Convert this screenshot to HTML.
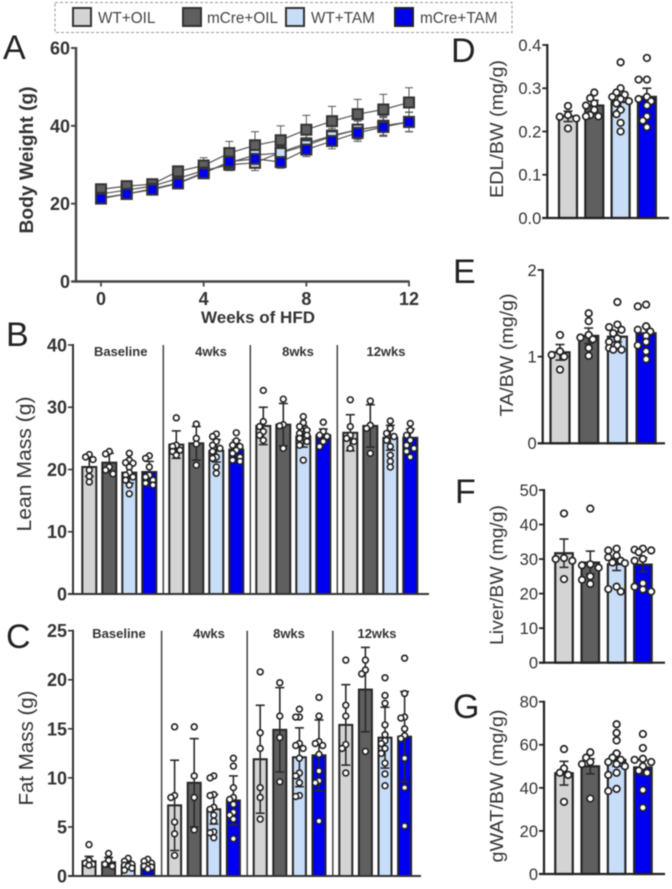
<!DOCTYPE html>
<html lang="en">
<head>
<meta charset="utf-8">
<title>Body composition panels</title>
<style>
html,body{margin:0;padding:0;background:#fff;}
body{width:672px;height:889px;overflow:hidden;}
svg{display:block;filter:blur(0.45px);}
text{font-family:"Liberation Sans",Arial,sans-serif;}
</style>
</head>
<body>
<svg id="figure" xmlns="http://www.w3.org/2000/svg" width="672" height="889" viewBox="0 0 672 889">
  <g>
    <rect x="55" y="2.5" width="457" height="30" fill="none" stroke="#999" stroke-width="1" stroke-dasharray="3 2"/>
    <rect x="73" y="8" width="18" height="18" fill="#d4d4d4" stroke="#333" stroke-width="2"/>
    <text x="98" y="23" font-size="15.3" fill="#444">WT+OIL</text>
    <rect x="183" y="8" width="18" height="18" fill="#5f5f5f" stroke="#333" stroke-width="2"/>
    <text x="207" y="23" font-size="15.3" fill="#444">mCre+OIL</text>
    <rect x="286" y="8" width="18" height="18" fill="#c8def8" stroke="#333" stroke-width="2"/>
    <text x="311" y="23" font-size="15.3" fill="#444">WT+TAM</text>
    <rect x="395" y="8" width="18" height="18" fill="#0000f0" stroke="#222" stroke-width="2"/>
    <text x="420" y="23" font-size="15.3" fill="#444">mCre+TAM</text>
  </g>
  <g font-size="34" fill="#222">
    <text x="3" y="59">A</text>
    <text x="6" y="346">B</text>
    <text x="6" y="648">C</text>
    <text x="451" y="62">D</text>
    <text x="453" y="283">E</text>
    <text x="455" y="503">F</text>
    <text x="453" y="718">G</text>
  </g>
</svg>
<script>
// ---------- shared ----------
const groupColors = ['#d4d4d4', '#5f5f5f', '#c8def8', '#0000f0'];

// ---------- panel A: body weight ----------
const weeks = [0, 1, 2, 3, 4, 5, 6, 7, 8, 9, 10, 11, 12];
const weightTicksY = [0, 20, 40, 60];
const weightTicksX = [0, 4, 8, 12];
const weightWtOil = [22.5, 23.5, 24.5, 26.5, 28.5, 30, 30.5, 33.2, 35.5, 37.5, 39, 40, 41];
const weightMcreOil = [23.7, 24.5, 25, 28.3, 29.8, 33, 35, 36.3, 39, 41.2, 43, 44.2, 46];
const weightWtTam = [21.5, 22.5, 23.8, 25.3, 28, 30.5, 32.5, 33, 35, 37.3, 39, 40, 41];
const weightMcreTam = [21.3, 22.5, 23.6, 25.2, 27.8, 30.8, 31.5, 30.7, 33.9, 36.1, 38.2, 39.7, 41];
const weightErrWtOil = [0.8, 0.8, 0.8, 1, 1.5, 1.5, 2, 2.2, 2.2, 2.3, 2.5, 2.5, 2.5];
const weightErrMcreOil = [1, 1, 1, 1.2, 2, 3, 3.5, 3.7, 3.7, 3.8, 3.8, 3.9, 3.8];
const weightErrWtTam = [0.8, 0.8, 0.8, 1, 1.2, 1.4, 1.7, 1.8, 1.9, 2, 2.2, 2.4, 2.5];
const weightErrMcreTam = [0.8, 0.8, 0.8, 1, 1.2, 1.4, 1.6, 1.6, 1.8, 2, 2.2, 2.4, 2.5];

// ---------- panel B: lean mass (time point x group) ----------
const timeLabels = ['Baseline', '4wks', '8wks', '12wks'];
const leanTicks = [0, 10, 20, 30, 40];
const leanMeans = [[20.4, 21.1, 19.5, 19.6], [24, 24.2, 23, 23.2], [27, 27.2, 25.3, 25.5], [25.9, 27, 25.1, 25.1]];
const leanErrs = [[1.5, 1.5, 1.7, 1.7], [2.2, 2.7, 1.8, 1.5], [3, 3.4, 1.7, 1], [2.9, 3.4, 2, 1.4]];
const leanPoints = [
  [[22.4, 22, 21.6, 19.9, 18.9, 18], [22.9, 22.5, 20.4, 19.9, 19.3], [22.6, 21.5, 21, 21.1, 20.4, 19.5, 19.1, 18.8, 18.3, 17.5, 16.1], [22.2, 21.8, 20.4, 19.1, 18.8, 18.3, 17.8, 17.5]],
  [[28.3, 23.9, 23.7, 23.1, 22.9, 22.3], [27.3, 25, 24.1, 20.7], [25.7, 25.3, 24.5, 23.9, 23.4, 22.9, 22, 21.8, 20.4, 19.4], [25.9, 24.6, 23.9, 23.7, 23.1, 22.6, 22, 21.5, 21.3]],
  [[32.7, 27.7, 26.9, 26.1, 25.5, 24.7], [31.3, 27.2, 27, 23.4], [28.5, 27.5, 26.9, 26.3, 25.8, 25.5, 25, 24.5, 23.9, 21.5], [27.6, 26.1, 25.5, 25.3, 24.5, 23.7]],
  [[31.2, 26.9, 25.5, 25, 24.5, 23.4], [31, 27.1, 26.6, 22.6], [27.8, 26.6, 25.8, 25.3, 24.7, 23.7, 22.3, 21.3, 20.4], [27.4, 26.3, 25.5, 24.7, 23.9, 23.4, 22.9, 22]]
];

// ---------- panel C: fat mass (time point x group) ----------
const fatTicks = [0, 5, 10, 15, 20, 25];
const fatMeans = [[1.5, 1.4, 1.1, 1.1], [7.2, 9.5, 6.8, 7.7], [11.9, 14.9, 12.1, 12.3], [15.4, 19, 14.1, 14.2]];
const fatErrs = [[0.5, 0.5, 0.4, 0.4], [4.6, 4.5, 1.5, 2.5], [5.5, 4.3, 3, 3.6], [4.1, 4.3, 3.1, 4.6]];
const fatPoints = [
  [[3.2, 1.6, 1.3, 1.2, 1.1], [2.3, 1.6, 1.2, 1], [1.8, 1.5, 1.2, 1.1, 1, 0.8, 0.6], [1.7, 1.5, 1.3, 1.1, 1, 0.9, 0.7]],
  [[15.2, 8.2, 8, 5.5, 4.3, 2.1], [15.2, 10.2, 8, 4.7], [10.2, 10, 8.3, 8.2, 7, 6.8, 6.2, 5.6, 4.5, 4.4, 3.9], [12, 11.2, 9, 8, 7.8, 7.3, 6.5, 6.2, 5.8, 3.8]],
  [[20.8, 14.6, 13, 9, 8, 5.8], [19.7, 16.3, 14.1, 9.6], [17, 16.2, 16.2, 13.5, 13.3, 13, 12, 10.5, 10.2, 9.5, 8.2, 8.1], [18.2, 16.3, 13.7, 13.5, 13.3, 12.4, 10.7, 9.7, 9.5, 5.6]],
  [[22, 17.4, 16.3, 13.4, 13, 10.5], [22, 21, 20.6, 12.7], [20.2, 18.4, 17.6, 15.4, 14.4, 13.8, 13.5, 13, 12.5, 11.5, 10.4, 9.2], [22.2, 18.6, 16.2, 16.1, 15, 14.3, 14, 12, 9, 5.1]]
];

// ---------- panel D: EDL/BW ----------
const edlTicks = ['0.0', '0.1', '0.2', '0.3', '0.4'];
const edlMeans = [0.235, 0.26, 0.268, 0.28];
const edlErrs = [0.012, 0.012, 0.017, 0.02];
const edlPoints = [[0.259, 0.238, 0.234, 0.23, 0.207], [0.29, 0.277, 0.265, 0.26, 0.25, 0.238, 0.235, 0.235], [0.36, 0.3, 0.29, 0.285, 0.28, 0.275, 0.27, 0.265, 0.25, 0.24, 0.22, 0.2], [0.37, 0.32, 0.32, 0.28, 0.275, 0.27, 0.26, 0.235, 0.225, 0.21]];

// ---------- panel E: TA/BW ----------
const taTicks = ['0', '1', '2'];
const taMeans = [1.05, 1.24, 1.23, 1.27];
const taErrs = [0.09, 0.09, 0.06, 0.08];
const taPoints = [[1.25, 1.06, 1.02, 1, 0.85], [1.5, 1.41, 1.25, 1.22, 1.2, 1.1, 1.01], [1.63, 1.37, 1.34, 1.31, 1.27, 1.21, 1.17, 1.13, 1.1, 1.08, 1.08], [1.6, 1.58, 1.35, 1.31, 1.29, 1.24, 1.17, 1.13, 1.06, 0.97]];

// ---------- panel F: Liver/BW ----------
const liverTicks = ['0', '10', '20', '30', '40', '50'];
const liverMeans = [31.7, 29, 28.5, 28.4];
const liverErrs = [4.1, 3.3, 1.8, 2];
const liverPoints = [[43.2, 30.3, 30, 29.5, 24.2], [44.6, 28.5, 28.2, 27.5, 25, 24, 22.8], [33, 32.5, 31, 30.5, 29.5, 29, 28.8, 22, 21.3, 20.6], [33, 32.7, 32.5, 32, 30, 29.5, 23, 22, 21.2, 20.6]];

// ---------- panel G: gWAT/BW ----------
const gwatTicks = ['0', '20', '40', '60', '80'];
const gwatMeans = [46.8, 50, 53, 49.5];
const gwatErrs = [5.5, 3.5, 3, 3.5];
const gwatPoints = [[58, 49, 47, 46, 33.5], [56.5, 54, 52, 51, 35], [69.5, 65.5, 62, 56, 54, 53, 52, 51, 50, 47, 46, 39.5, 38.5], [65, 58.5, 53.5, 53, 52, 50, 48, 47, 39, 30.8]];

// ---------- drawing helpers ----------
const svg = document.getElementById('figure');
const NS = 'http://www.w3.org/2000/svg';

function shape(parent, tag, attrs) {
  const el = document.createElementNS(NS, tag);
  for (const k in attrs) el.setAttribute(k, attrs[k]);
  parent.appendChild(el);
  return el;
}
function linear(d0, d1, r0, r1) {
  return function (v) { return r0 + (v - d0) * (r1 - r0) / (d1 - d0); };
}
function line(parent, x1, y1, x2, y2, color, width) {
  return shape(parent, 'line', { x1: x1, y1: y1, x2: x2, y2: y2, stroke: color, 'stroke-width': width });
}
function label(parent, x, y, content, size, weight, anchor, color) {
  const t = shape(parent, 'text', { x: x, y: y, 'font-size': size, 'font-weight': weight, 'text-anchor': anchor, fill: color });
  t.textContent = content;
  return t;
}
function yTitle(parent, baselineX, cy, content, size, weight, length) {
  const t = shape(parent, 'text', {
    transform: 'translate(' + baselineX + ',' + cy + ') rotate(-90)',
    'font-size': size, 'font-weight': weight, 'text-anchor': 'middle', fill: '#333',
    textLength: length, lengthAdjust: 'spacingAndGlyphs'
  });
  t.textContent = content;
  
  
  return t;
}
// Deterministic bee-swarm: each dot takes the freest slot beside the centre line, never wider than maxOffset.
function swarm(values, y, dotSize, maxOffset) {
  const placed = [];
  const sorted = values.slice().sort(function (a, b) { return b - a; });
  sorted.forEach(function (v) {
    const py = y(v);
    let bestX = 0;
    let bestGap = -1;
    for (let step = 0; step < 12; step++) {
      const px = (step % 2 === 0 ? 1 : -1) * Math.ceil(step / 2) * dotSize * 0.5;
      if (Math.abs(px) > maxOffset) break;
      let gap = Infinity;
      placed.forEach(function (p) { gap = Math.min(gap, Math.hypot(p.x - px, p.y - py)); });
      if (gap >= dotSize * 0.72) { bestX = px; bestGap = gap; break; }
      if (gap > bestGap) { bestX = px; bestGap = gap; }
    }
    placed.push({ x: bestX, y: py });
  });
  return placed;
}
function drawYAxis(parent, axisX, y, tickValues, tickText, size, weight, color, axisWidth) {
  const top = Math.min.apply(null, tickValues.map(y));
  const bottom = Math.max.apply(null, tickValues.map(y));
  const axis = line(parent, axisX, top - 1, axisX, bottom + 1, color, axisWidth);
  
  
  tickValues.forEach(function (v, i) {
    const tick = line(parent, axisX - 5, y(v), axisX, y(v), color, axisWidth * 0.8);
    
    
    const t = label(parent, axisX - 6, y(v) + size * 0.36, tickText[i], size, weight, 'end', '#333');
    
    
  });
}
function drawBar(parent, cx, width, y, baseY, mean, err, points, color, dotRadius, dotStroke, barStroke) {
  const bar = shape(parent, 'rect', { x: cx - width / 2, y: y(mean), width: width, height: baseY - y(mean), fill: color, stroke: '#262626', 'stroke-width': barStroke });
  
  
  const errLine = line(parent, cx, y(mean + err), cx, y(mean - err), '#2a2a2a', 1.6);
  
  
  const capTop = line(parent, cx - 4.5, y(mean + err), cx + 4.5, y(mean + err), '#2a2a2a', 1.6);
  
  
  const capBottom = line(parent, cx - 4.5, y(mean - err), cx + 4.5, y(mean - err), '#2a2a2a', 1.6);
  
  
  swarm(points, y, dotRadius * 2 + dotStroke, width * 0.5).forEach(function (p) {
    const dot = shape(parent, 'circle', { cx: cx + p.x, cy: p.y, r: dotRadius, fill: '#fff', stroke: '#222', 'stroke-width': dotStroke });
    
    
  });
}

// ---------- panel A ----------
(function () {
  const g = shape(svg, 'g', {});
  
  
  const x = linear(0, 12, 101, 409);
  const y = linear(0, 60, 281.5, 48);
  drawYAxis(g, 76, y, weightTicksY, weightTicksY.map(String), 18, 'bold', '#444', 2.4);
  const xAxis = line(g, 72, y(0), 409.6, y(0), '#444', 2.4);
  
  
  weightTicksX.forEach(function (w) {
    const tick = line(g, x(w), y(0), x(w), y(0) + 5, '#444', 1.8);
    
    
    const t = label(g, x(w), 305, String(w), 18, 'bold', 'middle', '#333');
    
    
  });
  const xt = label(g, 258, 323, 'Weeks of HFD', 17, 'bold', 'middle', '#333');
  
  
  yTitle(g, 33, 160, 'Body Weight (g)', 19, 'bold', 147);

  const series = [weightWtOil, weightMcreOil, weightWtTam, weightMcreTam];
  const errors = [weightErrWtOil, weightErrMcreOil, weightErrWtTam, weightErrMcreTam];
  series.forEach(function (values, s) {
    values.forEach(function (v, i) {
      const e = errors[s][i];
      const stem = line(g, x(weeks[i]), y(v + e), x(weeks[i]), y(v - e), '#555', 1);
      
      
      const capHi = line(g, x(weeks[i]) - 4, y(v + e), x(weeks[i]) + 4, y(v + e), '#555', 1);
      
      
      const capLo = line(g, x(weeks[i]) - 4, y(v - e), x(weeks[i]) + 4, y(v - e), '#555', 1);
      
      
    });
  });
  series.forEach(function (values, s) {
    const path = shape(g, 'polyline', {
      points: values.map(function (v, i) { return x(weeks[i]) + ',' + y(v); }).join(' '),
      fill: 'none', stroke: '#555', 'stroke-width': 1.2
    });
    
    
    values.forEach(function (v, i) {
      const m = shape(g, 'rect', { x: x(weeks[i]) - 5, y: y(v) - 5, width: 10, height: 10, fill: groupColors[s], stroke: '#333', 'stroke-width': 2 });
      
      
    });
  });
})();

// ---------- panels B and C ----------
function drawGrouped(name, y, ticks, means, errs, points, firstCenter, barStep, groupStep, barWidth, xEnd, labelCenters, labelY) {
  const g = shape(svg, 'g', {});
  
  
  const baseY = y(0);
  const topY = y(ticks[ticks.length - 1]);
  means.forEach(function (row, t) {
    row.forEach(function (mean, i) {
      const cx = firstCenter + t * groupStep + i * barStep;
      drawBar(g, cx, barWidth, y, baseY, mean, errs[t][i], points[t][i], groupColors[i], 2.9, 1.6, 2);
    });
    const lab = label(g, labelCenters[t], labelY, timeLabels[t], 13, 'bold', 'middle', '#333');
    
    
    if (t > 0) {
      const dx = firstCenter + t * groupStep - 13;
      const div = line(g, dx, topY, dx, baseY, '#444', 1.5);
      
      
    }
  });
  drawYAxis(g, 73, y, ticks, ticks.map(String), 18, 'bold', '#333', 2);
  const xAxis = line(g, 68, baseY, xEnd, baseY, '#333', 2);
  
  
}
drawGrouped('panel-b-lean-mass', linear(0, 40, 594, 345), leanTicks, leanMeans, leanErrs, leanPoints, 89.3, 20, 87, 14, 429, [120.7, 211, 298, 386], 356);
drawGrouped('panel-c-fat-mass', linear(0, 25, 876, 630.7), fatTicks, fatMeans, fatErrs, fatPoints, 89, 19.6, 85.6, 13, 421, [119, 209, 289, 377], 638);
yTitle(svg, 31, 464, 'Lean Mass (g)', 20.5, 'normal', 135);
yTitle(svg, 33, 748, 'Fat Mass (g)', 20.5, 'normal', 115);

// ---------- panels D to G ----------
function drawSimple(name, y, tickValues, tickText, means, errs, points, axisX, firstCenter, barStep, barWidth, xEnd) {
  const g = shape(svg, 'g', {});
  
  
  const baseY = y(tickValues[0]);
  means.forEach(function (mean, i) {
    drawBar(g, firstCenter + i * barStep, barWidth, y, baseY, mean, errs[i], points[i], groupColors[i], 3.3, 1.7, 2.2);
  });
  drawYAxis(g, axisX, y, tickValues, tickText, 16.5, 'normal', '#222', 2.2);
  const xAxis = line(g, axisX - 5, baseY, xEnd, baseY, '#222', 2.2);
  
  
}
drawSimple('panel-d-edl', linear(0, 0.4, 218, 45), edlTicks.map(Number), edlTicks, edlMeans, edlErrs, edlPoints, 547.3, 568, 26.3, 18, 669);
drawSimple('panel-e-ta', linear(0, 2, 443.3, 270), taTicks.map(Number), taTicks, taMeans, taErrs, taPoints, 542.7, 560, 28.7, 19, 665);
drawSimple('panel-f-liver', linear(0, 50, 662.7, 490), liverTicks.map(Number), liverTicks, liverMeans, liverErrs, liverPoints, 544, 564, 26.3, 17.5, 665);
drawSimple('panel-g-gwat', linear(0, 80, 874, 701.7), gwatTicks.map(Number), gwatTicks, gwatMeans, gwatErrs, gwatPoints, 544, 564, 26.3, 17.5, 665);
yTitle(svg, 503, 129, 'EDL/BW (mg/g)', 18, 'normal', 138);
yTitle(svg, 513, 355, 'TA/BW (mg/g)', 18, 'normal', 123);
yTitle(svg, 503, 575, 'Liver/BW (mg/g)', 18, 'normal', 140);
yTitle(svg, 503, 786, 'gWAT/BW (mg/g)', 18, 'normal', 153);
</script>
</body>
</html>
